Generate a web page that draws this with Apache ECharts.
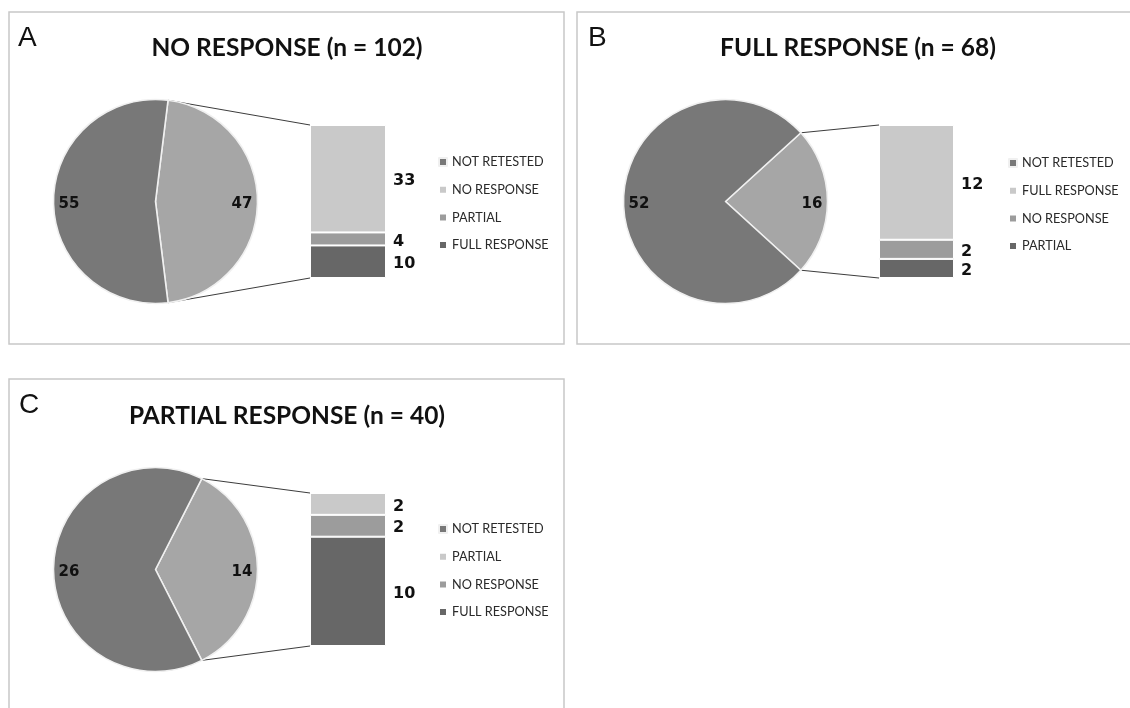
<!DOCTYPE html>
<html>
<head>
<meta charset="utf-8">
<script src="https://cdn.jsdelivr.net/npm/echarts@6/dist/echarts.min.js"></script>
<style>
html, body { margin: 0; padding: 0; background: #ffffff; }
#chart { width: 1130px; height: 708px; }
</style>
</head>
<body>
<div id="chart"></div>
<script>
// ---------------- DATA ----------------
const panelLetters = ['A', 'B', 'C'];
const panelTitles = ['NO RESPONSE (n = 102)', 'FULL RESPONSE (n = 68)', 'PARTIAL RESPONSE (n = 40)'];

// pie slices: the split-out slice first, then "NOT RETESTED"
const pieCategories = ['OTHER', 'NOT RETESTED'];
const pieValuesA = [47, 55];
const pieValuesB = [16, 52];
const pieValuesC = [14, 26];

// stacked bar segments, listed top to bottom
const barCategoriesA = ['NO RESPONSE', 'PARTIAL', 'FULL RESPONSE'];
const barValuesA = [33, 4, 10];
const barCategoriesB = ['FULL RESPONSE', 'NO RESPONSE', 'PARTIAL'];
const barValuesB = [12, 2, 2];
const barCategoriesC = ['PARTIAL', 'NO RESPONSE', 'FULL RESPONSE'];
const barValuesC = [2, 2, 10];

// ---------------- STYLE / LAYOUT ----------------
const pieColors = ['#a6a6a6', '#787878'];
const barColors = ['#c9c9c9', '#9c9c9c', '#676767'];

const layout = [
  { box: [9, 12, 555, 332], letter: [18, 38], title: [287, 48], pie: [155.5, 201.5], grid: [310, 125, 76, 153], legend: [438, 154] },
  { box: [577, 12, 570, 332], letter: [588, 38], title: [858, 48], pie: [725.5, 201.5], grid: [879, 125, 75, 153], legend: [1008, 155] },
  { box: [9, 379, 555, 345], letter: [19, 405], title: [287, 416], pie: [155.5, 569.5], grid: [310, 493, 76, 153], legend: [438, 521] }
];
const pieRadius = 102;
const labelRingInner = 65;

// size a font so that a sample string reaches a measured width
function fitSize(sample, family, weight, targetWidth) {
  const ctx = document.createElement('canvas').getContext('2d');
  ctx.font = weight + ' 100px ' + family;
  const w = ctx.measureText(sample).width;
  return Math.round(100 * targetWidth / w * 10) / 10;
}
const titleFamily = 'Lato, "Open Sans", sans-serif';
const titleSize = fitSize('NO RESPONSE (n = 102)', titleFamily, 'bold', 271);
const legendFamily = 'Lato, "Open Sans", sans-serif';
const legendSize = fitSize('NOT RETESTED', legendFamily, 'normal', 92);
const valueFamily = '"DejaVu Sans"';

// ---------------- BUILD ----------------
const pies = [pieValuesA, pieValuesB, pieValuesC];
const barCats = [barCategoriesA, barCategoriesB, barCategoriesC];
const barVals = [barValuesA, barValuesB, barValuesC];

const series = [];
const grids = [], xAxes = [], yAxes = [], legends = [], graphics = [];
const sum = arr => arr.reduce((s, v) => s + v, 0);

pies.forEach((vals, i) => {
  const L = layout[i];
  const p = panelLetters[i] + '|';
  const total = sum(vals);
  const startAngle = 180 * vals[0] / total;
  const pieData = vals.map((v, k) => ({ name: p + pieCategories[k], value: v, itemStyle: { color: pieColors[k] } }));
  series.push({
    type: 'pie', center: L.pie, radius: [0, pieRadius], startAngle: startAngle, clockwise: true,
    data: pieData, label: { show: false }, labelLine: { show: false },
    itemStyle: { borderColor: '#f0f0f0', borderWidth: 1.6 },
    emphasis: { disabled: true }, silent: true
  });
  // transparent ring carrying value labels
  series.push({
    type: 'pie', center: L.pie, radius: [labelRingInner, pieRadius], startAngle: startAngle, clockwise: true,
    data: vals.map((v, k) => ({ name: p + 'ring|' + pieCategories[k], value: v })),
    itemStyle: { color: 'rgba(0,0,0,0)' },
    label: { show: true, position: 'inside', offset: [0, 2.5], formatter: '{c}', fontFamily: valueFamily, fontWeight: 'bold', fontSize: 15, color: '#111' },
    labelLine: { show: false }, emphasis: { disabled: true }, silent: true
  });

  // bar
  const g = L.grid;
  const bTotal = sum(barVals[i]);
  grids.push({ left: g[0], top: g[1], width: g[2], height: g[3], containLabel: false });
  xAxes.push({ type: 'category', gridIndex: i, data: [''], show: false });
  yAxes.push({ type: 'value', gridIndex: i, min: 0, max: bTotal, show: false });
  const cats = barCats[i], bv = barVals[i];
  for (let k = cats.length - 1; k >= 0; k--) {
    series.push({
      type: 'bar', name: p + cats[k], xAxisIndex: i, yAxisIndex: i, stack: 'S' + i,
      data: [bv[k]], barWidth: '100%',
      itemStyle: { color: barColors[k], borderColor: '#ffffff', borderWidth: 1 },
      label: { show: true, position: 'right', distance: 7, offset: [0, 2.5], formatter: '{c}', fontFamily: valueFamily, fontWeight: 'bold', fontSize: 16, color: '#111' },
      emphasis: { disabled: true }, silent: true
    });
  }

  // legend
  legends.push({
    orient: 'vertical', left: L.legend[0], top: L.legend[1], padding: 0,
    itemWidth: 8, itemHeight: 8, itemGap: 11.7, icon: 'rect', selectedMode: false,
    data: [p + pieCategories[1]].concat(cats.map(c => p + c)),
    formatter: name => name.split('|')[1],
    textStyle: { fontFamily: legendFamily, fontSize: legendSize, color: '#2a2a2a', lineHeight: 16 }
  });

  // frame, letter, title
  graphics.push({
    type: 'rect', shape: { x: L.box[0], y: L.box[1], width: L.box[2], height: L.box[3] },
    style: { fill: 'none', stroke: '#c8c8c8', lineWidth: 1.5 }, silent: true, z: 0
  });
  graphics.push({
    type: 'text', x: L.letter[0], y: L.letter[1],
    style: { text: panelLetters[i], font: '28px "Liberation Sans"', fill: '#111', textAlign: 'left', textVerticalAlign: 'middle', align: 'left', verticalAlign: 'middle' }, silent: true
  });
  graphics.push({
    type: 'text', x: L.title[0], y: L.title[1],
    style: { text: panelTitles[i], font: 'bold ' + titleSize + 'px ' + titleFamily, fill: '#111', textAlign: 'center', textVerticalAlign: 'middle', align: 'center', verticalAlign: 'middle' }, silent: true
  });

  // connector lines from the split slice edges to the bar corners
  const half = Math.PI * vals[0] / total;
  const cx = L.pie[0], cy = L.pie[1];
  const topPt = [cx + pieRadius * Math.cos(half), cy - pieRadius * Math.sin(half)];
  const botPt = [cx + pieRadius * Math.cos(half), cy + pieRadius * Math.sin(half)];
  graphics.push({ type: 'line', shape: { x1: topPt[0], y1: topPt[1], x2: g[0], y2: g[1] }, style: { stroke: '#3c3c3c', lineWidth: 1 }, silent: true });
  graphics.push({ type: 'line', shape: { x1: botPt[0], y1: botPt[1], x2: g[0], y2: g[1] + g[3] }, style: { stroke: '#3c3c3c', lineWidth: 1 }, silent: true });
});

const chart = echarts.init(document.getElementById('chart'), null, { renderer: 'canvas' });
chart.setOption({
  animation: false,
  backgroundColor: '#ffffff',
  grid: grids, xAxis: xAxes, yAxis: yAxes,
  legend: legends,
  tooltip: { show: false },
  graphic: { elements: graphics },
  series: series
});
</script>
</body>
</html>
